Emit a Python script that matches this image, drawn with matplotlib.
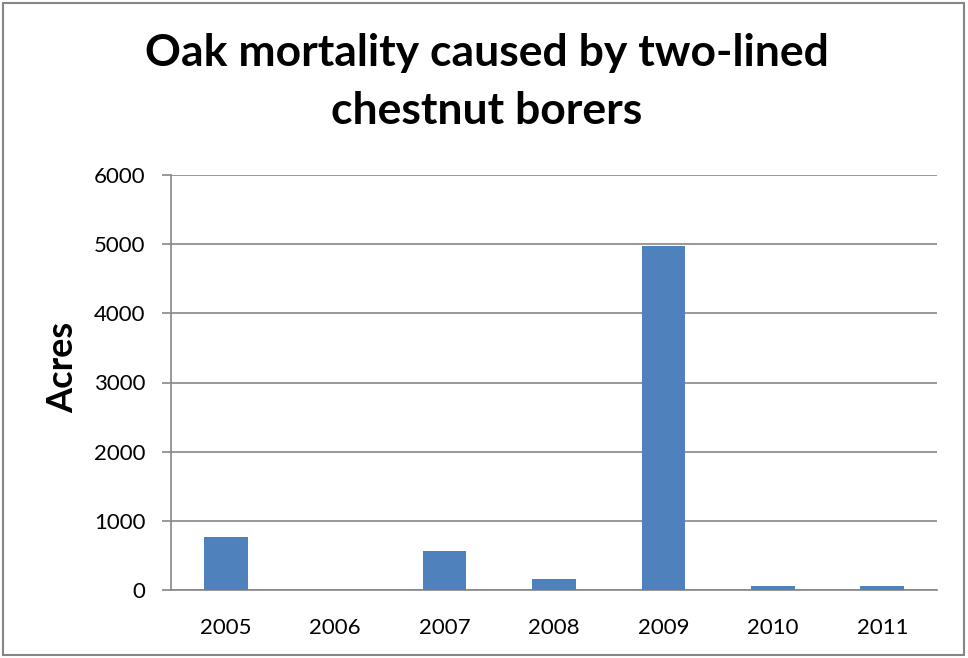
import matplotlib
matplotlib.use("Agg")
import matplotlib.pyplot as plt
from matplotlib.patches import Rectangle

years = ["2005", "2006", "2007", "2008", "2009", "2010", "2011"]
acres = [766, 0, 565, 160, 4975, 55, 55]
yticks = [0, 1000, 2000, 3000, 4000, 5000, 6000]

plt.rcParams['font.family'] = ['Lato', 'DejaVu Sans']

fig = plt.figure(figsize=(9.68, 6.58), dpi=100)
ax = fig.add_axes([171/968, 68/658, 766/968, 415/658])

x = list(range(len(years)))
ax.bar(x, acres, width=0.4, color='#4F81BD', zorder=3)
ax.set_xlim(-0.5, len(years) - 0.5)
ax.set_ylim(0, 6000)
ax.set_yticks(yticks)
ax.set_xticks(x)
ax.set_xticklabels(years)
ax.tick_params(axis='x', length=0, pad=20, labelsize=16)
ax.tick_params(axis='y', length=6.5, width=1.2, color='#868686', pad=12, labelsize=16, direction='out')
ax.grid(axis='y', color='#868686', linewidth=1.2, zorder=0)
for s in ['top', 'right']:
    ax.spines[s].set_visible(False)
for s in ['left', 'bottom']:
    ax.spines[s].set_color('#868686')
    ax.spines[s].set_linewidth(1.2)

fig.text(62.5/968, 1 - 367/658, 'Acres', rotation=90, ha='center', va='center',
         fontsize=26, fontweight='bold')
fig.text(0.503, 1 - 82/658, 'Oak mortality caused by two-lined\nchestnut borers',
         ha='center', va='center', fontsize=32, fontweight='bold', linespacing=1.52)

fig.patches.append(Rectangle((3/968, 3/658), 961/968, 652/658, transform=fig.transFigure,
                             fill=False, edgecolor='#868686', linewidth=1.5))

fig.savefig('out.png', dpi=100)
